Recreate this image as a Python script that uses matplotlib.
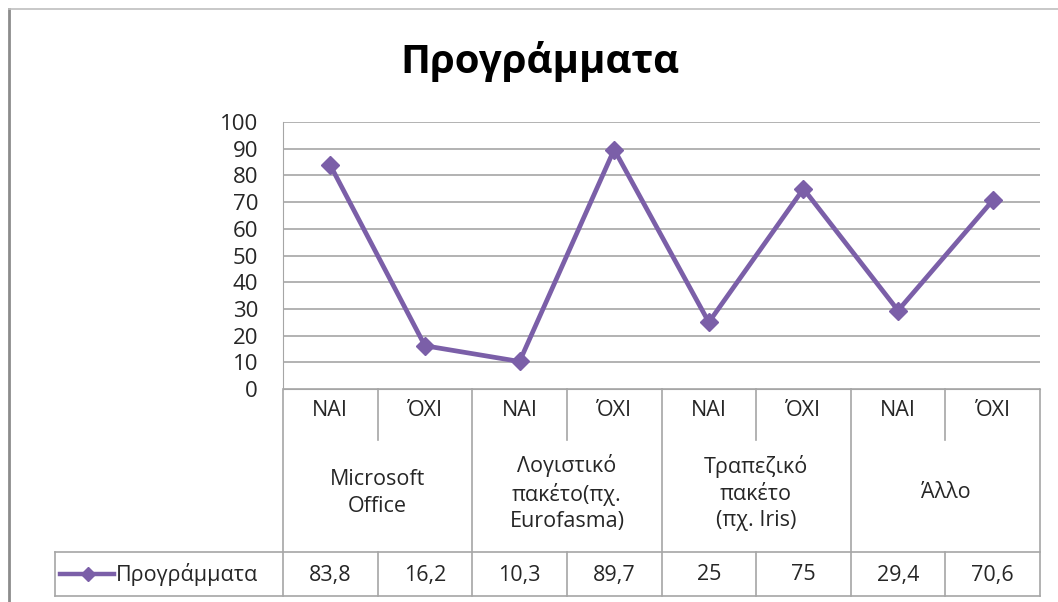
import matplotlib
matplotlib.use("Agg")
import matplotlib.pyplot as plt
import matplotlib.transforms as mtransforms
from matplotlib.lines import Line2D
import numpy as np

plt.rcParams['font.family'] = ['Open Sans', 'DejaVu Sans']

title = "Προγράμματα"
series_name = "Προγράμματα"
answers = ["ΝΑΙ", "ΌΧΙ", "ΝΑΙ", "ΌΧΙ", "ΝΑΙ", "ΌΧΙ", "ΝΑΙ", "ΌΧΙ"]
groups = ["Microsoft\nOffice", "Λογιστικό\nπακέτο(πχ.\nEurofasma)",
          "Τραπεζικό\nπακέτο\n(πχ. Iris)", "Άλλο"]
values = [83.8, 16.2, 10.3, 89.7, 25, 75, 29.4, 70.6]
value_labels = ["83,8", "16,2", "10,3", "89,7", "25", "75", "29,4", "70,6"]

purple = "#7B5FA8"
grid_c = "#A6A6A6"
text_c = "#262626"
fs = 15.5

W, H = 1058, 602
fig = plt.figure(figsize=(W / 100, H / 100), dpi=100)
# plot area in pixels: x 283..1040, y 122..389
L, R, T, B = 283, 1040, 122, 389
ax = fig.add_axes([L / W, (H - B) / H, (R - L) / W, (B - T) / H])

x = np.arange(len(values))
ax.plot(x, values, color=purple, lw=3.4, marker="D", ms=9, zorder=3)
ax.set_xlim(-0.5, len(values) - 0.5)
ax.set_ylim(0, 100)
ax.set_yticks(range(0, 101, 10))
ax.tick_params(axis="y", length=0, labelsize=16, labelcolor=text_c, pad=18)
ax.set_xticks([])
for s in ["top", "right"]:
    ax.spines[s].set_visible(False)
ax.spines["left"].set_color(grid_c)
ax.spines["bottom"].set_color(grid_c)
ax.yaxis.grid(True, color=grid_c, lw=1.2)
ax.set_axisbelow(True)

fig.text(540 / W, 1 - 62 / H, title, ha="center", va="center",
         fontsize=29, fontweight="bold", color="black")

# helpers: y pixel -> axes fraction, x pixel -> axes fraction
def fy(p):
    return (B - p) / (B - T)

def fx(p):
    return (p - L) / (R - L)

blend = mtransforms.blended_transform_factory(ax.transData, ax.transAxes)

def vline(xd, y0, y1, trans=blend):
    ax.add_line(Line2D([xd, xd], [fy(y0), fy(y1)], color=grid_c, lw=1.2,
                       transform=trans, clip_on=False))

def hline(x0, x1, yp):
    ax.add_line(Line2D([fx(x0), fx(x1)], [fy(yp), fy(yp)], color=grid_c, lw=1.2,
                       transform=ax.transAxes, clip_on=False))

n = len(values)
for i in range(n + 1):
    b = i - 0.5
    if i % 2 == 0:
        vline(b, B, 596)
    else:
        vline(b, B, 440)
        vline(b, 552, 596)
vline(fx(55), 552, 596, trans=ax.transAxes)
hline(55, R, 552)
hline(55, R, 596)

for i, a in enumerate(answers):
    ax.text(i, fy(411), a, transform=blend, ha="center", va="center",
            fontsize=fs, color=text_c)
for g, lab in enumerate(groups):
    ax.text(2 * g + 0.5, fy(493), lab, transform=blend, ha="center",
            va="center", fontsize=fs, color=text_c, linespacing=1.32)
for i, v in enumerate(value_labels):
    ax.text(i, fy(575), v, transform=blend, ha="center", va="center",
            fontsize=fs, color=text_c)

# legend key inside the data table
ax.add_line(Line2D([fx(60), fx(114)], [fy(574), fy(574)], color=purple, lw=3.2,
                   transform=ax.transAxes, clip_on=False))
ax.add_line(Line2D([fx(88)], [fy(574)], color=purple, marker="D", ms=7,
                   transform=ax.transAxes, clip_on=False))
ax.text(fx(116), fy(575), series_name, transform=ax.transAxes, ha="left",
        va="center", fontsize=fs, color=text_c)

# chart area border (cropped)
fig.add_artist(Line2D([9 / W, 9 / W], [0, 1 - 9 / H], color="#8C8C8C", lw=2,
                      transform=fig.transFigure))
fig.add_artist(Line2D([9 / W, 1], [1 - 9 / H, 1 - 9 / H], color="#BFBFBF", lw=1.2,
                      transform=fig.transFigure))

fig.savefig("out.png", dpi=100, facecolor="white")
